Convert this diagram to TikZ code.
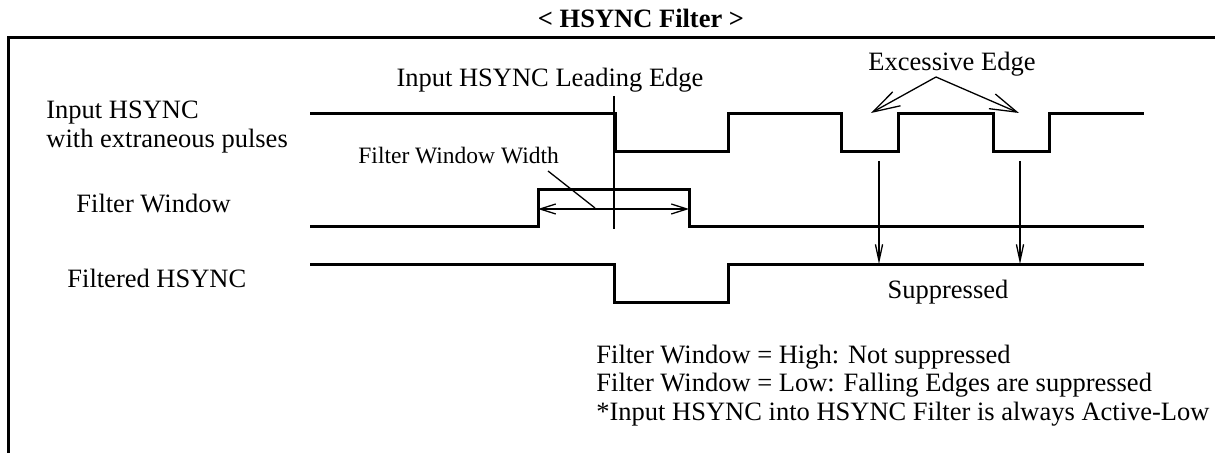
\documentclass[tikz,border=0pt]{standalone}
\usepackage{fontspec}
\setmainfont{Liberation Serif}
\usetikzlibrary{arrows.meta}
\begin{document}
\begin{tikzpicture}[x=0.5pt,y=-0.5pt,
  sig/.style={line width=1.5pt, line join=miter},
  thinln/.style={line width=0.65pt},
  lbl/.style={inner sep=0pt, font=\fontsize{13.25}{15}\selectfont},
  smalllbl/.style={inner sep=0pt, font=\fontsize{11.75}{14}\selectfont},
  dimarrow/.style={thinln, {Straight Barb[length=7.8pt,width=5pt]}-{Straight Barb[length=7.8pt,width=5pt]}},
  bigarrow/.style={thinln, -{Straight Barb[length=13.5pt,width=8pt]}},
  downarrow/.style={thinln, -{Straight Barb[length=8.3pt,width=3.6pt]}}]
\useasboundingbox (0,0) rectangle (1215,453);
% frame
\draw[sig] (1215,38) -- (8,38) -- (8,453);
% title
\node[lbl, font=\fontsize{13.25}{15}\selectfont\bfseries, anchor=base] (title) at (641,28) {< HSYNC Filter >};
% row labels
\node[lbl, anchor=base west] (in1) at (46,119) {Input HSYNC};
\node[lbl, anchor=base west] (in2) at (46,148) {with extraneous pulses};
\node[lbl, anchor=base west] (fwlbl) at (76,213) {Filter Window};
\node[lbl, anchor=base west] (fhlbl) at (67,288) {Filtered HSYNC};
% signals
\draw[sig] (310,114) -| (615,152) -| (728,114) -| (841,152) -| (898,114) -| (993,152) -| (1049,114) -- (1144,114);
\draw[sig] (310,227) -| (538,190) -| (689,227) -- (1144,227);
\draw[sig] (310,265) -| (614,303) -| (728,265) -- (1144,265);
% leading edge
\node[lbl, anchor=base] (lead) at (550,87) {Input HSYNC Leading Edge};
\coordinate (leadtop) at (614,96);
\coordinate (leadbot) at (614,229);
\draw[thinln] (leadtop) -- (leadbot);
% filter window width
\coordinate (wl) at (538,209);
\coordinate (wr) at (689,209);
\draw[dimarrow] (wl) -- (wr);
\node[smalllbl, anchor=base west] (fww) at (358,164) {Filter Window Width};
\coordinate (ldA) at (548,171);
\coordinate (ldB) at (595,208);
\draw[thinln] (ldA) -- (ldB);
% excessive edge
\node[lbl, anchor=base] (ee) at (952,71) {Excessive Edge};
\coordinate (apex) at (936,77);
\coordinate (e1) at (871,113);
\coordinate (e2) at (1019,113);
\draw[bigarrow] (apex) -- (e1);
\draw[bigarrow] (apex) -- (e2);
% suppression arrows
\coordinate (s1t) at (879,161);
\coordinate (s1b) at (879,264);
\coordinate (s2t) at (1020,161);
\coordinate (s2b) at (1020,264);
\draw[downarrow] (s1t) -- (s1b);
\draw[downarrow] (s2t) -- (s2b);
\node[lbl, anchor=base] (supp) at (948,299) {Suppressed};
% notes
\node[lbl, anchor=base west] (n1) at (596,364) {Filter Window = High: Not suppressed};
\node[lbl, anchor=base west] (n2) at (596,392) {Filter Window = Low: Falling Edges are suppressed};
\node[lbl, anchor=base west] (n3) at (596,421) {*Input HSYNC into HSYNC Filter is always Active-Low};
\end{tikzpicture}
\end{document}
